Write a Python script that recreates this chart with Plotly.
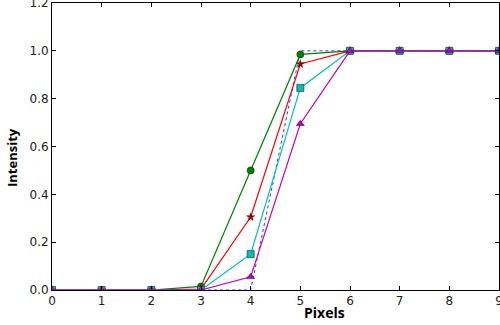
import plotly.graph_objects as go

pixels = [0, 1, 2, 3, 4, 5, 6, 7, 8, 9]
ideal = [0, 0, 0, 0, 0, 1.0, 1.0, 1.0, 1.0, 1.0]
green = [0, 0, 0, 0.015, 0.50, 0.985, 1.0, 1.0, 1.0, 1.0]
red = [0, 0, 0, 0.004, 0.305, 0.945, 1.0, 1.0, 1.0, 1.0]
cyan = [0, 0, 0, 0, 0.15, 0.845, 1.0, 1.0, 1.0, 1.0]
magenta = [0, 0, 0, 0, 0.055, 0.695, 1.0, 1.0, 1.0, 1.0]
xticks = [0, 1, 2, 3, 4, 5, 6, 7, 8, 9]
yticks = [0.0, 0.2, 0.4, 0.6, 0.8, 1.0, 1.2]

fig = go.Figure()
fig.add_trace(go.Scatter(x=pixels, y=ideal, mode="lines",
                         line=dict(color="#3333ff", width=1.0, dash="dot")))
fig.add_trace(go.Scatter(x=pixels, y=green, mode="lines+markers",
                         line=dict(color="#008000", width=1.2),
                         marker=dict(symbol="circle", size=7, color="#008000",
                                     line=dict(color="#003300", width=0.6))))
fig.add_trace(go.Scatter(x=pixels, y=red, mode="lines+markers",
                         line=dict(color="#ff0000", width=1.2),
                         marker=dict(symbol="star", size=6, color="#aa0000",
                                     line=dict(color="#550000", width=0.5))))
fig.add_trace(go.Scatter(x=pixels, y=cyan, mode="lines+markers",
                         line=dict(color="#00bfbf", width=1.2),
                         marker=dict(symbol="square", size=7, color="#00bfbf",
                                     line=dict(color="#333333", width=0.7))))
fig.add_trace(go.Scatter(x=pixels, y=magenta, mode="lines+markers",
                         line=dict(color="#bf00bf", width=1.2),
                         marker=dict(symbol="triangle-up", size=7, color="#bf00bf",
                                     line=dict(color="#330033", width=0.5))))

axis_common = dict(showgrid=False, zeroline=False, showline=True, linecolor="black",
                   linewidth=1, mirror="ticks", ticks="inside", ticklen=4, automargin=False,
                   ticklabeloverflow="allow",
                   tickcolor="black", tickfont=dict(family="DejaVu Sans", size=12, color="#222222"))
fig.update_xaxes(range=[0, 9], tickvals=xticks, ticktext=[str(v) for v in xticks], **axis_common)
fig.update_yaxes(range=[0, 1.2], tickvals=yticks, ticktext=[f"{v:.1f}" for v in yticks], **axis_common)

fig.update_layout(
    width=500, height=325,
    margin=dict(l=52, r=1, t=3, b=35),
    paper_bgcolor="white", plot_bgcolor="white",
    showlegend=False,
)
pw = 500 - 52 - 1
ph = 325 - 3 - 35
fig.add_annotation(text="<b>Pixels</b>", x=(324 - 52) / pw, y=-(312 - 290) / ph,
                   xref="paper", yref="paper", showarrow=False, xanchor="center", yanchor="middle",
                   font=dict(family="Open Sans", size=14, color="black"))
fig.add_annotation(text="<b>Intensity</b>", x=-(52 - 12) / pw, y=(290 - 158) / ph,
                   xref="paper", yref="paper", showarrow=False, textangle=-90,
                   xanchor="center", yanchor="middle",
                   font=dict(family="Open Sans", size=13, color="black"))
fig.write_html("out.html", post_script="document.body.style.margin='0';",
               config={"displayModeBar": False})
